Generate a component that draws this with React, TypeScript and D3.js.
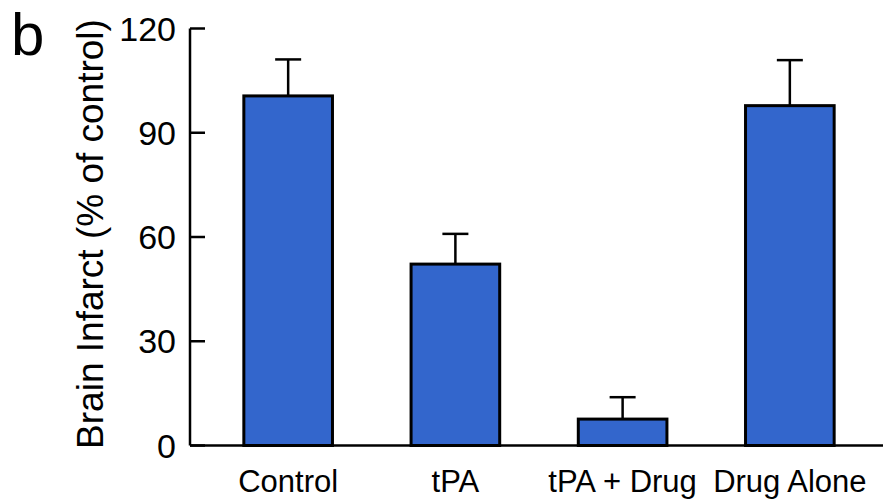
import React, { useEffect, useRef } from 'react';
import * as d3 from 'd3';

const categories = ['Control', 'tPA', 'tPA + Drug', 'Drug Alone'];
const means = [100.6, 52.2, 7.6, 97.8];
const errors = [10.5, 8.7, 6.3, 13.1];
const yTicks = [0, 30, 60, 90, 120];

const App = () => {
  const svgRef = useRef<SVGSVGElement>(null);

  useEffect(() => {
    const svg = d3.select(svgRef.current);
    svg.selectAll('*').remove();

    const font = 'Liberation Sans, Arial, Helvetica, sans-serif';

    const x = d3
      .scaleBand()
      .domain(categories)
      .range([192, 886])
      .paddingInner(0.47)
      .paddingOuter(0.31);

    const y = d3.scaleLinear().domain([0, 120]).range([445.5, 28.5]);

    // bars
    svg
      .selectAll('rect.bar')
      .data(means)
      .enter()
      .append('rect')
      .attr('class', 'bar')
      .attr('x', (d, i) => x(categories[i]))
      .attr('y', (d) => y(d))
      .attr('width', x.bandwidth())
      .attr('height', (d) => y(0) - y(d))
      .style('fill', '#3366cc')
      .style('stroke', '#000')
      .style('stroke-width', 3);

    // error bars (upper only)
    const err = svg.append('g').style('stroke', '#000').style('stroke-width', 2.5);
    means.forEach((m, i) => {
      const cx = x(categories[i]) + x.bandwidth() / 2;
      err
        .append('line')
        .attr('x1', cx)
        .attr('x2', cx)
        .attr('y1', y(m))
        .attr('y2', y(m + errors[i]));
      err
        .append('line')
        .attr('x1', cx - 13)
        .attr('x2', cx + 13)
        .attr('y1', y(m + errors[i]))
        .attr('y2', y(m + errors[i]));
    });

    // y axis
    const yAxis = svg.append('g');
    yAxis
      .append('line')
      .attr('x1', 190)
      .attr('x2', 190)
      .attr('y1', y(120))
      .attr('y2', y(0))
      .style('stroke', '#000')
      .style('stroke-width', 2.5);
    yTicks.forEach((t) => {
      yAxis
        .append('line')
        .attr('x1', 190)
        .attr('x2', 205)
        .attr('y1', y(t))
        .attr('y2', y(t))
        .style('stroke', '#000')
        .style('stroke-width', 2.5);
      yAxis
        .append('text')
        .attr('x', 176)
        .attr('y', y(t))
        .attr('dy', '0.36em')
        .attr('text-anchor', 'end')
        .style('font-family', font)
        .style('font-size', '34px')
        .text(t);
    });

    // x axis line
    svg
      .append('line')
      .attr('x1', 190)
      .attr('x2', 883)
      .attr('y1', y(0))
      .attr('y2', y(0))
      .style('stroke', '#000')
      .style('stroke-width', 2.5);

    // category labels
    svg
      .selectAll('text.cat')
      .data(categories)
      .enter()
      .append('text')
      .attr('class', 'cat')
      .attr('x', (d) => x(d) + x.bandwidth() / 2)
      .attr('y', 492)
      .attr('text-anchor', 'middle')
      .style('font-family', font)
      .style('font-size', '31px')
      .text((d) => d);

    // y axis title
    svg
      .append('text')
      .attr('transform', 'translate(103,234) rotate(-90)')
      .attr('text-anchor', 'middle')
      .style('font-family', font)
      .style('font-size', '37px')
      .text('Brain Infarct (% of control)');

    // panel letter
    svg
      .append('text')
      .attr('x', 11)
      .attr('y', 55)
      .style('font-family', font)
      .style('font-size', '60px')
      .text('b');
  }, []);

  return (
    <svg
      ref={svgRef}
      width={883}
      height={499}
      style={{ position: 'absolute', left: 0, top: 0, background: '#fff' }}
    />
  );
};

export default App;
